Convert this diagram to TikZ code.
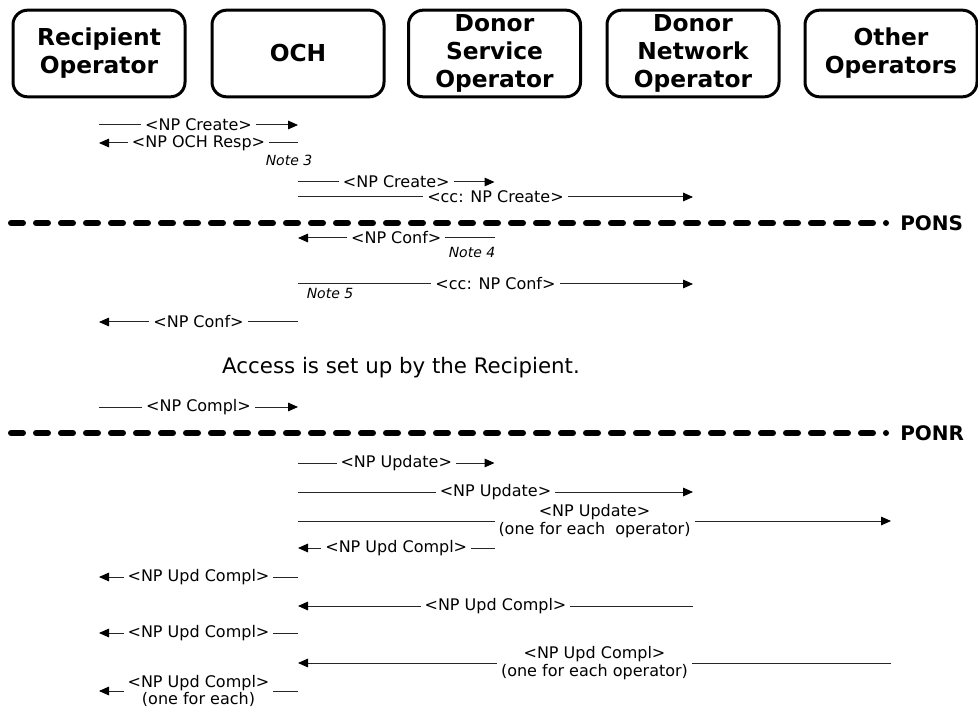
\documentclass[tikz,border=0pt]{standalone}
\usepackage{fontspec}
\setmainfont{DejaVu Sans}
\usetikzlibrary{arrows.meta}

\tikzset{
  party/.style={draw, line width=2.25pt, rounded corners=11pt, minimum width=129pt,
    minimum height=65pt, inner sep=0pt, align=center,
    font=\fontsize{17.5}{21}\selectfont\bfseries},
  msg/.style={draw=black!85, line width=0.75pt, -{Triangle[length=7.5pt,width=6.5pt,color=black]}},
  lbl/.style={fill=white, inner xsep=3pt, inner ysep=0.5pt, align=center,
    font=\fontsize{12}{13.2}\selectfont},
  note/.style={inner sep=0pt, font=\fontsize{10.5}{12}\selectfont\itshape},
  phase/.style={line width=4.5pt, line cap=round, dash pattern=on 9pt off 9.75pt},
  phaselbl/.style={inner sep=0pt, font=\fontsize{15}{18}\selectfont\bfseries}
}

\begin{document}
\begin{tikzpicture}[x=0.75pt, y=-0.75pt]
\useasboundingbox (0,0) rectangle (978,709);

% parties
\node[party] (ro)  at (99,53.5)    {Recipient\\Operator};
\node[party] (och) at (298,53.5)   {OCH};
\node[party] (dso) at (494.5,53.5) {Donor\\Service\\Operator};
\node[party] (dno) at (693,53.5)   {Donor\\Network\\Operator};
\node[party] (oth) at (891,53.5)   {Other\\Operators};

% porting request
\draw[msg] (ro |- 0,125) -- node[lbl]{<NP Create>} (och |- 0,125);
\draw[msg] (och |- 0,143) -- node[lbl]{<NP OCH Resp>} (ro |- 0,143);
\node[note] (n3) at (289,160) {Note 3};
\draw[msg] (och |- 0,182) -- node[lbl]{<NP Create>} (dso |- 0,182);
\draw[msg] (och |- 0,197) -- node[lbl]{<cc: NP Create>} (dno |- 0,197);

% point of no substitution
\coordinate (pons-a) at (11,223);
\coordinate (pons-b) at (886,223);
\draw[phase] (pons-a) -- (pons-b);
\node[phaselbl, anchor=west] (pons) at (900,223) {PONS};

% confirmation
\draw[msg] (dso |- 0,238) -- node[lbl]{<NP Conf>} (och |- 0,238);
\node[note] (n4) at (472,252) {Note 4};
\draw[msg] (och |- 0,284) -- node[lbl]{<cc: NP Conf>} (dno |- 0,284);
\node[note] (n5) at (330,293) {Note 5};
\draw[msg] (och |- 0,322) -- node[lbl]{<NP Conf>} (ro |- 0,322);

\node[font=\fontsize{16}{19}\selectfont] (access) at (401,368) {Access is set up by the Recipient.};

\draw[msg] (ro |- 0,407) -- node[lbl]{<NP Compl>} (och |- 0,407);

% point of no return
\coordinate (ponr-a) at (11,433);
\coordinate (ponr-b) at (886,433);
\draw[phase] (ponr-a) -- (ponr-b);
\node[phaselbl, anchor=west] (ponr) at (900,433) {PONR};

% updates
\draw[msg] (och |- 0,463) -- node[lbl]{<NP Update>} (dso |- 0,463);
\draw[msg] (och |- 0,492) -- node[lbl]{<NP Update>} (dno |- 0,492);
\draw[msg] (och |- 0,521) -- node[lbl]{<NP Update>\\(one for each\ \ operator)} (oth |- 0,521);
\draw[msg] (dso |- 0,548) -- node[lbl]{<NP Upd Compl>} (och |- 0,548);
\draw[msg] (och |- 0,577) -- node[lbl]{<NP Upd Compl>} (ro |- 0,577);
\draw[msg] (dno |- 0,606) -- node[lbl]{<NP Upd Compl>} (och |- 0,606);
\draw[msg] (och |- 0,633) -- node[lbl]{<NP Upd Compl>} (ro |- 0,633);
\draw[msg] (oth |- 0,663) -- node[lbl]{<NP Upd Compl>\\(one for each operator)} (och |- 0,663);
\draw[msg] (och |- 0,691) -- node[lbl]{<NP Upd Compl>\\(one for each)} (ro |- 0,691);
\end{tikzpicture}
\end{document}
